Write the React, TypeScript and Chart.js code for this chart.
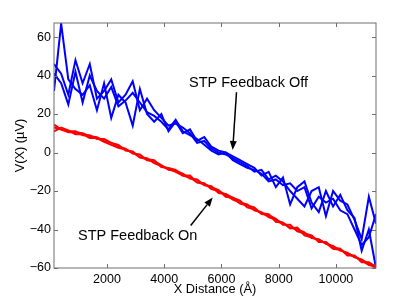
import React, { useEffect, useRef } from "react";
import { Chart, registerables } from "chart.js";

Chart.register(...registerables);

const xDistance = [
  150, 400, 650, 900, 1150, 1400, 1650, 1900, 2150, 2400, 2650, 2900, 3150, 3400, 3650, 3900,
  4150, 4400, 4650, 4900, 5150, 5400, 5650, 5900, 6150, 6400, 6650, 6900, 7150, 7400, 7650,
  7900, 8150, 8400, 8650, 8900, 9150, 9400, 9650, 9900, 10150, 10400, 10650, 10900, 11150, 11400,
];

const offRun1 = [
  32, 67, 38, 33, 30, 35, 22, 36, 18, 30, 26, 14, 33, 20, 16, 20, 11, 16, 10, 12, 6, 8, 3, 1, 0,
  -2, -4, -6, -8, -12, -10, -18, -13, -27, -18, -15, -26, -31, -20, -28, -22, -30, -34, -51, -40, -60,
];
const offRun2 = [
  46, 41, 30, 48, 36, 46, 28, 32, 38, 26, 30, 37, 22, 28, 22, 18, 14, 15, 13, 10, 5, 6, 2, 0, -1,
  -3, -5, -7, -10, -9, -14, -12, -15, -20, -24, -28, -20, -18, -33, -20, -25, -27, -35, -45, -23, -37,
];
const offRun3 = [
  41, 36, 25, 42, 26, 40, 32, 28, 34, 24, 27, 31, 26, 21, 19, 16, 12, 17, 11, 9, 7, 4, 1, -1, 0,
  -4, -6, -8, -9, -11, -15, -14, -17, -16, -20, -18, -29, -23, -26, -24, -30, -32, -40, -48, -44, -32,
];

const onRun1 = [
  11, 13, 11.5, 9.5, 9.5, 7.5, 7.5, 5.5, 4, 2.5, 1.5, 0, -2.5, -3, -5.5, -7, -8.5, -10, -12, -13,
  -15.5, -16, -19, -20, -22, -24.5, -26, -27, -30, -31, -33.5, -35, -36.5, -39, -40, -41.5, -44.5,
  -45, -47.5, -48.5, -51, -52, -54.5, -55.5, -58, -60,
];
const onRun2 = [
  13, 12, 11, 11, 9, 9, 7, 7, 5, 3, 2, -0.5, -1, -4, -4.5, -6.5, -9, -9.5, -11, -13.5, -14, -17,
  -17.5, -21, -21.5, -23.5, -26.5, -27.5, -28.5, -32, -32.5, -34.5, -37.5, -37.5, -41, -42, -43,
  -46.5, -46.5, -49.5, -50, -53.5, -53.5, -57, -57, -59.5,
];
const onRun3 = [
  14.5, 12, 10.5, 10.5, 10, 8.5, 8, 6, 5, 4, 1, 0.5, -2.5, -3.5, -4, -7.5, -8, -9, -12, -12, -15.5,
  -16.5, -18, -19.5, -23, -23.5, -25, -28.5, -29.5, -31.5, -32, -36, -36.5, -39.5, -39, -43,
  -44, -45.5, -47, -50, -50.5, -52.5, -54, -56, -58.5, -59,
];

const xTicks = [2000, 4000, 6000, 8000, 10000];
const yTicks = [-60, -40, -20, 0, 20, 40, 60];
const xMin = 150;
const xMax = 11400;
const yMin = -60;
const yMax = 67.3;

const offLabel = "STP Feedback Off";
const onLabel = "STP Feedback On";
const offLabelPos = { x: 4867, y: 36 };
const onLabelPos = { x: 988, y: -43.3 };
const offArrow = { x1: 6526, y1: 31.3, x2: 6393, y2: 1.3 };
const onArrow = { x1: 4926, y1: -37.9, x2: 5695, y2: -23.4 };

const FONT = "'Liberation Sans', Arial, Helvetica, sans-serif";

function fmt(v: number): string {
  return v < 0 ? "\u2212" + Math.abs(v) : String(v);
}

export default function App() {
  const ref = useRef<HTMLCanvasElement | null>(null);

  useEffect(() => {
    if (!ref.current) return;
    const toPts = (ys: number[]) => xDistance.map((x, i) => ({ x, y: ys[i] }));
    const blue = "#0000ff";
    const red = "#ff0000";
    const mk = (data: number[], color: string) => ({
      data: toPts(data),
      borderColor: color,
      backgroundColor: color,
      borderWidth: 2,
      pointRadius: 0,
      tension: 0,
      fill: false,
    });

    const overlay = {
      id: "overlay",
      afterDraw(chart: any) {
        const ctx = chart.ctx;
        const a = chart.chartArea;
        const xs = chart.scales.x;
        const ys = chart.scales.y;
        ctx.save();
        ctx.strokeStyle = "#6e6e6e";
        ctx.lineWidth = 1;
        ctx.strokeRect(a.left, a.top, a.right - a.left, a.bottom - a.top);
        ctx.beginPath();
        const tl = 4;
        xTicks.forEach((v) => {
          const p = Math.round(xs.getPixelForValue(v)) + 0.5;
          ctx.moveTo(p, a.bottom);
          ctx.lineTo(p, a.bottom - tl);
          ctx.moveTo(p, a.top);
          ctx.lineTo(p, a.top + tl);
        });
        yTicks.forEach((v) => {
          const p = Math.round(ys.getPixelForValue(v)) + 0.5;
          ctx.moveTo(a.left, p);
          ctx.lineTo(a.left + tl, p);
          ctx.moveTo(a.right, p);
          ctx.lineTo(a.right - tl, p);
        });
        ctx.stroke();

        ctx.fillStyle = "#000";
        ctx.font = `12.8px ${FONT}`;
        ctx.textAlign = "center";
        ctx.textBaseline = "middle";
        ctx.fillText("X Distance (\u00c5)", (a.left + a.right) / 2, 289);
        ctx.save();
        ctx.translate(20, (a.top + a.bottom) / 2);
        ctx.rotate(-Math.PI / 2);
        ctx.fillText("V(X) (\u00b5V)", 0, 0);
        ctx.restore();

        ctx.font = `14.5px ${FONT}`;
        ctx.textAlign = "left";
        ctx.fillText(offLabel, xs.getPixelForValue(offLabelPos.x), ys.getPixelForValue(offLabelPos.y));
        ctx.fillText(onLabel, xs.getPixelForValue(onLabelPos.x), ys.getPixelForValue(onLabelPos.y));

        const arrow = (ar: any) => {
          const x1 = xs.getPixelForValue(ar.x1);
          const y1 = ys.getPixelForValue(ar.y1);
          const x2 = xs.getPixelForValue(ar.x2);
          const y2 = ys.getPixelForValue(ar.y2);
          const ang = Math.atan2(y2 - y1, x2 - x1);
          const hl = 9;
          const hw = 3.5;
          const bx = x2 - hl * Math.cos(ang);
          const by = y2 - hl * Math.sin(ang);
          ctx.strokeStyle = "#000";
          ctx.lineWidth = 1.5;
          ctx.beginPath();
          ctx.moveTo(x1, y1);
          ctx.lineTo(bx, by);
          ctx.stroke();
          ctx.fillStyle = "#000";
          ctx.beginPath();
          ctx.moveTo(x2, y2);
          ctx.lineTo(bx + hw * Math.sin(ang), by - hw * Math.cos(ang));
          ctx.lineTo(bx - hw * Math.sin(ang), by + hw * Math.cos(ang));
          ctx.closePath();
          ctx.fill();
        };
        arrow(offArrow);
        arrow(onArrow);
        ctx.restore();
      },
    };

    const chart = new Chart(ref.current, {
      type: "line",
      data: {
        datasets: [
          mk(onRun1, red),
          mk(onRun2, red),
          mk(onRun3, red),
          mk(offRun1, blue),
          mk(offRun2, blue),
          mk(offRun3, blue),
        ],
      },
      options: {
        responsive: false,
        animation: false,
        maintainAspectRatio: false,
        layout: { padding: { top: 23, right: 39, left: 0, bottom: 0 } },
        plugins: { legend: { display: false }, tooltip: { enabled: false } },
        scales: {
          x: {
            type: "linear",
            min: xMin,
            max: xMax,
            grid: { display: false, drawTicks: false },
            border: { display: false },
            afterBuildTicks: (s: any) => {
              s.ticks = xTicks.map((v) => ({ value: v }));
            },
            afterFit: (s: any) => {
              s.height = 34;
            },
            ticks: {
              color: "#000",
              font: { family: FONT, size: 12.5 },
              padding: 4,
              maxRotation: 0,
              autoSkip: false,
              callback: (v: any) => fmt(Number(v)),
            },
          },
          y: {
            type: "linear",
            min: yMin,
            max: yMax,
            grid: { display: false, drawTicks: false },
            border: { display: false },
            afterBuildTicks: (s: any) => {
              s.ticks = yTicks.map((v) => ({ value: v }));
            },
            afterFit: (s: any) => {
              s.width = 54;
            },
            ticks: {
              color: "#000",
              font: { family: FONT, size: 12.5 },
              padding: 3,
              autoSkip: false,
              callback: (v: any) => fmt(Number(v)),
            },
          },
        },
      },
      plugins: [overlay],
    });
    return () => chart.destroy();
  }, []);

  return (
    <div style={{ position: "fixed", left: 0, top: 0, width: 415, height: 302, background: "#fff" }}>
      <canvas ref={ref} width={415} height={302} style={{ display: "block", width: 415, height: 302 }} />
    </div>
  );
}
